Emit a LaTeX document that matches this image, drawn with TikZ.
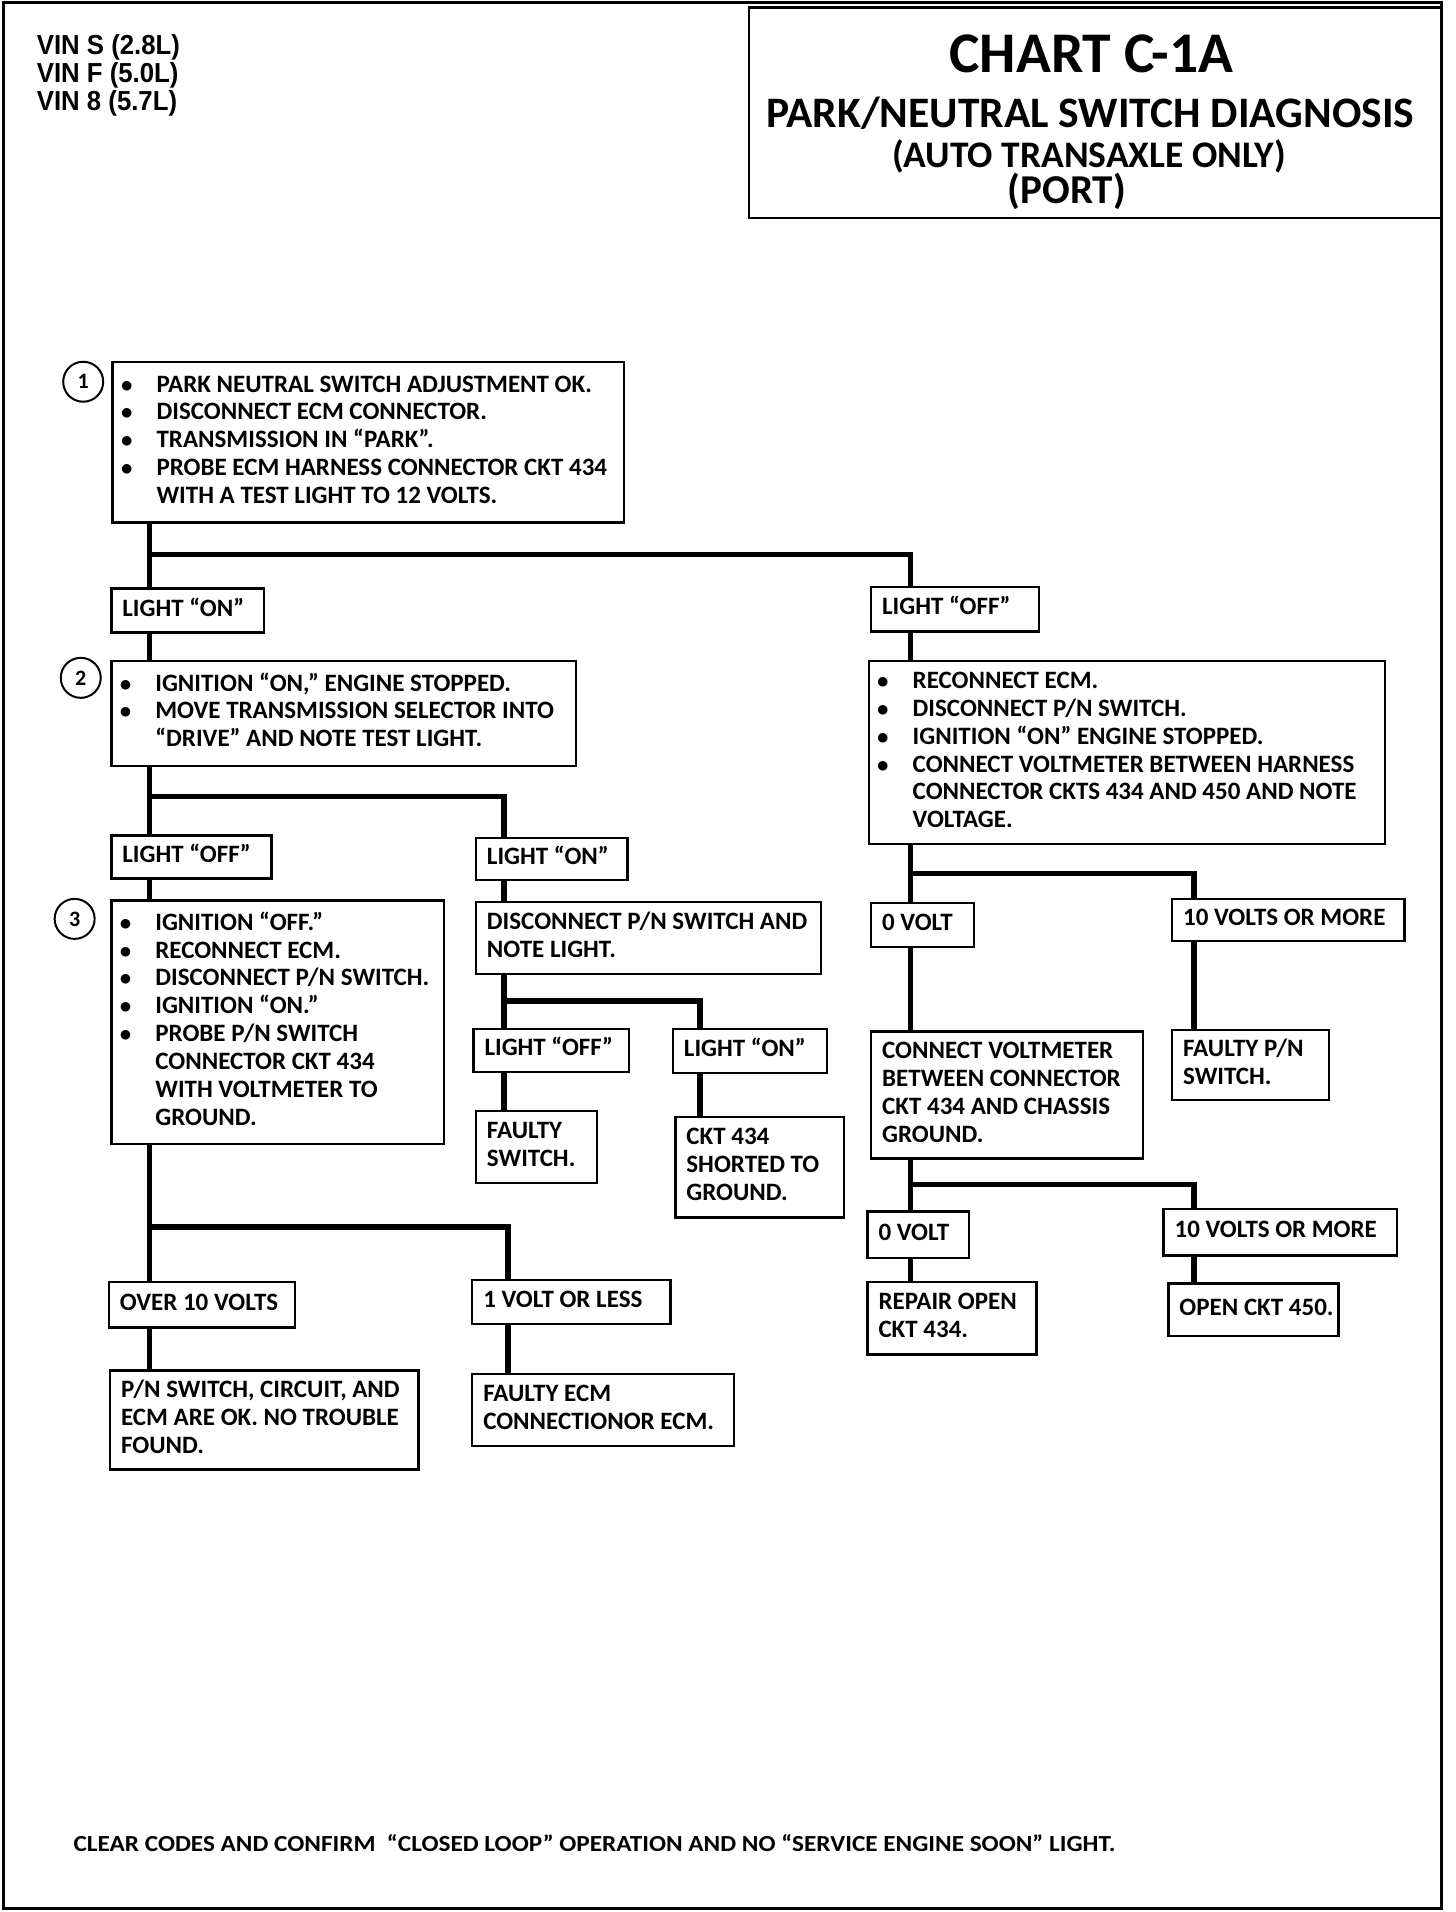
\documentclass[tikz,border=0pt]{standalone}
\usepackage{fontspec}
\setmainfont{Carlito}
\newfontfamily\vinfont{Liberation Sans}
\usepackage{graphicx}
\newcommand\bl{\makebox[33pt][l]{\hspace*{-3pt}$\bullet$}}
\newcommand\ind{\hspace*{33pt}}
\newcommand\bodyfont{\bfseries\fontsize{25}{27.9}\selectfont}
\newcommand\mybox[6]{%
 \pgfmathsetmacro\myBW{(#4-#2)*1.2235}%
 \pgfmathsetmacro\myBH{(#5-#3)*1.2235}%
 \pgfmathsetmacro\myTW{(#4-#2-18)*1.2235}%
 \node[box, minimum width=\myBW pt, minimum height=\myBH pt] (#1) at ({(#2+#4)/2},{(#3+#5)/2})
   {\raisebox{-2.5pt}{\makebox[\myTW pt][l]{\begin{tabular}{@{}l@{}}#6\end{tabular}}}};}
\begin{document}
\begin{tikzpicture}[x=1.2235pt,y=-1.2235pt,
  box/.style={draw, line width=2.4pt, inner xsep=11pt, inner ysep=0pt, font=\bodyfont},
  conn/.style={line width=5.5pt},
  num/.style={draw, circle, line width=2pt, minimum size=40pt, inner sep=0pt, font=\bfseries\fontsize{22}{24}\selectfont},
  ttl/.style={anchor=base, inner sep=0pt}]
\useasboundingbox (0,0) rectangle (1190,1562.7);
% page frame
\draw[line width=3.5pt] (3,2) rectangle (1178,1560);
% title
\node[draw, line width=2.4pt, minimum width=692.5pt, minimum height=210.4pt, inner sep=0pt] (title) at (895,92) {};
\node[ttl, font=\bfseries\fontsize{57.5}{60}\selectfont] (t-a) at (892,59) {CHART C-1A};
\node[ttl, font=\bfseries\fontsize{43.5}{46}\selectfont] (t-b) at (891,104.5) {PARK/NEUTRAL SWITCH DIAGNOSIS};
\node[ttl, font=\bfseries\fontsize{37.5}{40}\selectfont] (t-c) at (890,136.5) {(AUTO TRANSAXLE ONLY)};
\node[ttl, font=\bfseries\fontsize{41}{43}\selectfont] (t-d) at (872,166) {(PORT)};
% VIN
\node[anchor=north west, inner sep=0pt, font=\vinfont\bfseries\fontsize{25}{24.5}\selectfont] (vin) at (30,28)
  {\scalebox{1.03}[1.1]{\begin{tabular}{@{}l@{}}VIN S (2.8L)\\VIN F (5.0L)\\VIN 8 (5.7L)\end{tabular}}};
% trunk x positions and junctions
\coordinate (xA) at (122,0);
\coordinate (xB) at (412,0);
\coordinate (xC) at (572,0);
\coordinate (xD) at (415,0);
\coordinate (xR) at (744,0);
\coordinate (xS) at (976,0);
\coordinate (j1) at (122,453);
\coordinate (j2) at (122,651);
\coordinate (j3) at (412,818);
\coordinate (j4) at (122,1003);
\coordinate (j5) at (744,714);
\coordinate (j6) at (744,968);
% boxes
\mybox{b1}{92}{296}{510}{427}{\bl PARK NEUTRAL SWITCH ADJUSTMENT OK.\\ \bl DISCONNECT ECM CONNECTOR.\\ \bl TRANSMISSION IN “PARK”.\\ \bl PROBE ECM HARNESS CONNECTOR CKT 434\\ \ind WITH A TEST LIGHT TO 12 VOLTS.}
\mybox{lon1}{91}{481}{216}{517}{LIGHT “ON”}
\mybox{loff1}{712}{480}{849}{516}{LIGHT “OFF”}
\mybox{b2}{91}{540}{471}{626}{\bl IGNITION “ON,” ENGINE STOPPED.\\ \bl MOVE TRANSMISSION SELECTOR INTO\\ \ind “DRIVE” AND NOTE TEST LIGHT.}
\mybox{rb}{710}{540}{1132}{690}{\bl RECONNECT ECM.\\ \bl DISCONNECT P/N SWITCH.\\ \bl IGNITION “ON” ENGINE STOPPED.\\ \bl CONNECT VOLTMETER BETWEEN HARNESS\\ \ind CONNECTOR CKTS 434 AND 450 AND NOTE\\ \ind VOLTAGE.}
\mybox{loff2}{91}{683}{222}{718}{LIGHT “OFF”}
\mybox{lon2}{389}{685}{513}{719}{LIGHT “ON”}
\mybox{b3}{91}{736}{363}{935}{\bl IGNITION “OFF.”\\ \bl RECONNECT ECM.\\ \bl DISCONNECT P/N SWITCH.\\ \bl IGNITION “ON.”\\ \bl PROBE P/N SWITCH\\ \ind CONNECTOR CKT 434\\ \ind WITH VOLTMETER TO\\ \ind GROUND.}
\mybox{dpn}{389}{737}{671}{796}{DISCONNECT P/N SWITCH AND\\ NOTE LIGHT.}
\mybox{loff3}{387}{841}{514}{876}{LIGHT “OFF”}
\mybox{lon3}{550}{841}{676}{877}{LIGHT “ON”}
\mybox{fsw}{389}{908}{488}{967}{FAULTY\\ SWITCH.}
\mybox{ckt}{552}{913}{690}{995}{CKT 434\\ SHORTED TO\\ GROUND.}
\mybox{ov10}{89}{1048}{241}{1085}{OVER 10 VOLTS}
\mybox{v1}{386}{1046}{548}{1082}{1 VOLT OR LESS}
\mybox{ok}{90}{1120}{342}{1201}{P/N SWITCH, CIRCUIT, AND\\ ECM ARE OK. NO TROUBLE\\ FOUND.}
\mybox{fecm}{386}{1123}{600}{1182}{FAULTY ECM\\ CONNECTIONOR ECM.}
\mybox{z1}{712}{738}{796}{774}{0 VOLT}
\mybox{t1}{958}{735}{1148}{769}{10 VOLTS OR MORE}
\mybox{cv}{712}{843}{934}{947}{CONNECT VOLTMETER\\ BETWEEN CONNECTOR\\ CKT 434 AND CHASSIS\\ GROUND.}
\mybox{fpn}{958}{842}{1086}{899}{FAULTY P/N\\ SWITCH.}
\mybox{z2}{709}{990}{792}{1028}{0 VOLT}
\mybox{t2}{951}{988}{1142}{1026}{10 VOLTS OR MORE}
\mybox{rep}{709}{1048}{847}{1107}{REPAIR OPEN\\ CKT 434.}
\mybox{o450}{955}{1049}{1094}{1092}{OPEN CKT 450.}
% numbered circles
\node[num] (c1) at (68,312) {1};
\node[num] (c2) at (66,554) {2};
\node[num] (c3) at (61,751) {3};
% connectors
\draw[conn] (b1.south -| xA) -- (lon1.north -| xA);
\draw[conn] (j1) -| (loff1.north -| xR);
\draw[conn] (lon1.south -| xA) -- (b2.north -| xA);
\draw[conn] (b2.south -| xA) -- (loff2.north -| xA);
\draw[conn] (j2) -| (lon2.north -| xB);
\draw[conn] (loff2.south -| xA) -- (b3.north -| xA);
\draw[conn] (lon2.south -| xB) -- (dpn.north -| xB);
\draw[conn] (dpn.south -| xB) -- (loff3.north -| xB);
\draw[conn] (j3) -| (lon3.north -| xC);
\draw[conn] (loff3.south -| xB) -- (fsw.north -| xB);
\draw[conn] (lon3.south -| xC) -- (ckt.north -| xC);
\draw[conn] (b3.south -| xA) -- (ov10.north -| xA);
\draw[conn] (j4) -| (v1.north -| xD);
\draw[conn] (ov10.south -| xA) -- (ok.north -| xA);
\draw[conn] (v1.south -| xD) -- (fecm.north -| xD);
\draw[conn] (loff1.south -| xR) -- (rb.north -| xR);
\draw[conn] (rb.south -| xR) -- (z1.north -| xR);
\draw[conn] (j5) -| (t1.north -| xS);
\draw[conn] (z1.south -| xR) -- (cv.north -| xR);
\draw[conn] (t1.south -| xS) -- (fpn.north -| xS);
\draw[conn] (cv.south -| xR) -- (z2.north -| xR);
\draw[conn] (j6) -| (t2.north -| xS);
\draw[conn] (z2.south -| xR) -- (rep.north -| xR);
\draw[conn] (t2.south -| xS) -- (o450.north -| xS);
% footer
\node[anchor=base west, inner sep=0pt, font=\bfseries\fontsize{23}{25}\selectfont] (foot) at (60,1513)
  {\resizebox{1042pt}{\height}{CLEAR CODES AND CONFIRM \ “CLOSED LOOP” OPERATION AND NO “SERVICE ENGINE SOON” LIGHT.}};
\end{tikzpicture}
\end{document}
